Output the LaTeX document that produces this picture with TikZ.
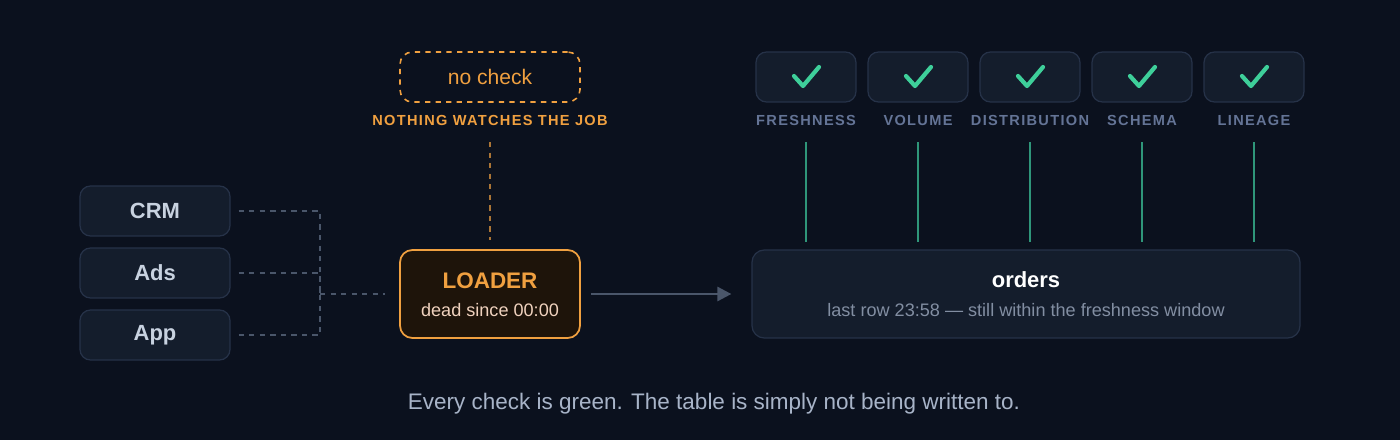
\documentclass[tikz,border=0pt]{standalone}
\usepackage{fontspec}
\setmainfont{Liberation Sans}
\newfontfamily\spacedfont[LetterSpace=9]{Liberation Sans}
\usetikzlibrary{positioning,arrows.meta}
\definecolor{bgdark}{RGB}{11,17,30}
\definecolor{boxfill}{RGB}{20,29,44}
\definecolor{boxline}{RGB}{38,50,72}
\definecolor{srctext}{RGB}{200,210,224}
\definecolor{wire}{RGB}{74,86,106}
\definecolor{warn}{RGB}{240,160,64}
\definecolor{warnfill}{RGB}{30,20,10}
\definecolor{peach}{RGB}{240,210,190}
\definecolor{okgreen}{RGB}{62,207,154}
\definecolor{okline}{RGB}{47,150,122}
\definecolor{lbl}{RGB}{100,116,150}
\definecolor{subtext}{RGB}{130,142,162}
\definecolor{captext}{RGB}{168,180,200}

\begin{document}
\begin{tikzpicture}[x=0.02cm, y=-0.02cm,
    source/.style={rectangle, rounded corners=6pt, draw=boxline, fill=boxfill, line width=0.7pt, minimum width=150*0.02cm, minimum height=50*0.02cm, text=srctext, font=\bfseries\fontsize{12.5}{13}\selectfont},
    check/.style={rectangle, rounded corners=6pt, draw=boxline, fill=boxfill, line width=0.7pt, minimum width=100*0.02cm, minimum height=50*0.02cm},
    checklabel/.style={text=lbl, font=\spacedfont\bfseries\fontsize{8.3}{9}\selectfont},
    dashwire/.style={draw=wire, dashed, line width=0.6pt},
    tick/.style={draw=okgreen, line width=2.4pt, line cap=round, line join=round}
]
\fill[bgdark] (0,0) rectangle (1400,440);

% sources
\node[source] (crm) at (155,211) {CRM};
\node[source] (ads) at (155,273) {Ads};
\node[source] (app) at (155,335) {App};

% loader and the missing check
\node[rectangle, rounded corners=7pt, draw=warn, fill=warnfill, line width=1pt, minimum width=180*0.02cm, minimum height=88*0.02cm] (loader) at (490,294) {};
\node[text=warn, font=\bfseries\fontsize{12.8}{13}\selectfont] (loadtitle) at (490,281) {LOADER};
\node[text=peach, font=\fontsize{10.3}{11}\selectfont] (loadsub) at (490,310) {dead since 00:00};
\node[rectangle, rounded corners=7pt, draw=warn, dashed, line width=0.9pt, minimum width=180*0.02cm, minimum height=50*0.02cm, text=warn, font=\fontsize{12}{13}\selectfont] (nocheck) at (490,77) {no check};
\node[text=warn, font=\spacedfont\bfseries\fontsize{8.3}{9}\selectfont] (nowatch) at (490,120) {NOTHING WATCHES THE JOB};

% table
\node[rectangle, rounded corners=7pt, draw=boxline, fill=boxfill, line width=0.7pt, minimum width=548*0.02cm, minimum height=88*0.02cm] (orders) at (1026,294) {};
\node[text=white, font=\bfseries\fontsize{12.5}{13}\selectfont] (ordtitle) at (1026,280) {orders};
\node[text=subtext, font=\fontsize{10.3}{11}\selectfont] (ordsub) at (1026,310) {last row 23:58 --- still within the freshness window};

% checks
\foreach \x/\name/\txt in {806/fresh/FRESHNESS, 918/vol/VOLUME, 1030/dist/DISTRIBUTION, 1142/schema/SCHEMA, 1254/lin/LINEAGE}{
    \node[check] (\name) at (\x,77) {};
    \draw[tick] (\x-12,76) -- (\x-3,86) -- (\x+13,67);
    \node[checklabel] (\name-l) at (\x,120) {\txt};
    \coordinate (\name-top) at (\x,142);
    \coordinate (\name-bot) at (\x,242);
    \draw[okline, line width=1pt] (\name-top) -- (\name-bot);
}

% wiring
\coordinate (join) at (320,294);
\coordinate (loadin) at (385,294);
\coordinate (watchtop) at (490,142);
\coordinate (watchbot) at (490,240);
\draw[dashwire] ([xshift=8*0.02cm]crm.east) -| (join);
\draw[dashwire] ([xshift=8*0.02cm]ads.east) -| (join);
\draw[dashwire] ([xshift=8*0.02cm]app.east) -| (join);
\draw[dashwire] (join) -- (loadin);
\draw[draw=warn!70!bgdark, dashed, line width=0.8pt] (watchtop) -- (watchbot);
\draw[wire, line width=1.5pt, -{Triangle[length=8pt, width=8pt]}] ([xshift=10*0.02cm]loader.east) -- ([xshift=-20*0.02cm]orders.west);

\node[text=captext, font=\fontsize{12.8}{14}\selectfont] (caption) at (714,404) {Every check is green. The table is simply not being written to.};
\end{tikzpicture}
\end{document}
